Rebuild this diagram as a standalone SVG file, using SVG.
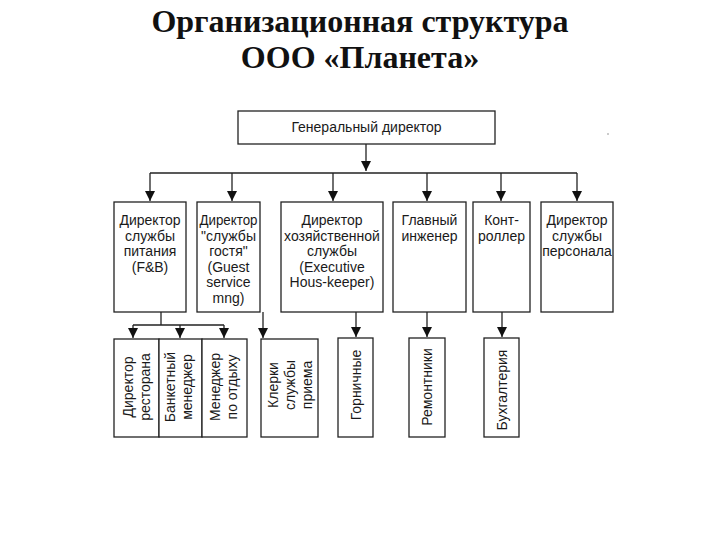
<svg xmlns="http://www.w3.org/2000/svg" width="720" height="540" viewBox="0 0 720 540">
<defs>
<style>
.title{font-family:"Liberation Serif","Times New Roman",serif;font-weight:bold;font-size:32px;fill:#111;text-anchor:middle}
.box{fill:#fff;stroke:#222;stroke-width:1.3}
.t{font-family:"Liberation Sans",Arial,sans-serif;font-size:14px;fill:#1a1a1a;text-anchor:middle}
.c{fill:none;stroke:#222;stroke-width:1.3}
</style>
<marker id="ah" viewBox="0 0 10 10" refX="10" refY="5" markerWidth="10" markerHeight="10" markerUnits="userSpaceOnUse" orient="auto">
<path d="M0,0 L10,5 L0,10 z" fill="#111"/>
</marker>
</defs>
<rect width="720" height="540" fill="#fff"/>
<text class="title" x="360" y="32">Организационная структура</text>
<text class="title" x="360" y="68">ООО «Планета»</text>
<circle cx="608" cy="134" r="0.8" fill="#888"/>

<g id="connectors">
<path class="c" d="M366,144 V171" marker-end="url(#ah)"/>
<path class="c" d="M150,173 H577"/>
<path class="c" d="M150,173 V201" marker-end="url(#ah)"/>
<path class="c" d="M232,173 V201" marker-end="url(#ah)"/>
<path class="c" d="M333,173 V201" marker-end="url(#ah)"/>
<path class="c" d="M427,173 V201" marker-end="url(#ah)"/>
<path class="c" d="M501,173 V201" marker-end="url(#ah)"/>
<path class="c" d="M577,173 V201" marker-end="url(#ah)"/>
<path class="c" d="M161,312 V325"/>
<path class="c" d="M133,325 H224"/>
<path class="c" d="M133,325 V338" marker-end="url(#ah)"/>
<path class="c" d="M180,325 V338" marker-end="url(#ah)"/>
<path class="c" d="M224,325 V338" marker-end="url(#ah)"/>
<path class="c" d="M263,312 V338" marker-end="url(#ah)"/>
<path class="c" d="M356,312 V337" marker-end="url(#ah)"/>
<path class="c" d="M427,312 V337" marker-end="url(#ah)"/>
<path class="c" d="M502,312 V337" marker-end="url(#ah)"/>
</g>

<g id="gen-dir">
<rect class="box" x="238" y="111" width="257" height="33"/>
<text class="t" x="366.5" y="132">Генеральный директор</text>
</g>

<g id="dir-fb">
<rect class="box" x="114" y="202" width="72" height="110"/>
<text class="t" x="150" y="225">Директор</text>
<text class="t" x="150" y="240.5">службы</text>
<text class="t" x="150" y="256">питания</text>
<text class="t" x="150" y="271.5">(F&amp;B)</text>
</g>

<g id="dir-guest">
<rect class="box" x="197" y="202" width="63" height="110"/>
<text class="t" x="228.5" y="225" textLength="58" lengthAdjust="spacingAndGlyphs">Директор</text>
<text class="t" x="228.5" y="240.5">"службы</text>
<text class="t" x="228.5" y="256">гостя"</text>
<text class="t" x="228.5" y="271.5">(Guest</text>
<text class="t" x="228.5" y="287">service</text>
<text class="t" x="228.5" y="302.5">mng)</text>
</g>

<g id="dir-house">
<rect class="box" x="281" y="202" width="102" height="110"/>
<text class="t" x="332" y="225">Директор</text>
<text class="t" x="332" y="240.5">хозяйственной</text>
<text class="t" x="332" y="256">службы</text>
<text class="t" x="332" y="271.5">(Executive</text>
<text class="t" x="332" y="287">Hous-keeper)</text>
</g>

<g id="chief-eng">
<rect class="box" x="393" y="202" width="73" height="110"/>
<text class="t" x="429.5" y="225">Главный</text>
<text class="t" x="429.5" y="240.5">инженер</text>
</g>

<g id="controller">
<rect class="box" x="473" y="202" width="57" height="110"/>
<text class="t" x="501.5" y="225">Конт-</text>
<text class="t" x="501.5" y="240.5">роллер</text>
</g>

<g id="dir-hr">
<rect class="box" x="541" y="202" width="72" height="110"/>
<text class="t" x="577" y="225">Директор</text>
<text class="t" x="577" y="240.5">службы</text>
<text class="t" x="577" y="256">персонала</text>
</g>

<g id="rest-dir">
<rect class="box" x="114" y="339" width="45" height="98"/>
<text class="t" transform="translate(133,387) rotate(-90)">Директор</text>
<text class="t" transform="translate(150,387) rotate(-90)">ресторана</text>
</g>

<g id="banquet">
<rect class="box" x="159" y="339" width="43" height="98"/>
<text class="t" transform="translate(175,387) rotate(-90)">Банкетный</text>
<text class="t" transform="translate(192,387) rotate(-90)">менеджер</text>
</g>

<g id="leisure">
<rect class="box" x="202" y="339" width="45" height="98"/>
<text class="t" transform="translate(220,387) rotate(-90)">Менеджер</text>
<text class="t" transform="translate(237,387) rotate(-90)">по отдыху</text>
</g>

<g id="clerks">
<rect class="box" x="261" y="339" width="57" height="98"/>
<text class="t" transform="translate(278,385) rotate(-90)">Клерки</text>
<text class="t" transform="translate(295,385) rotate(-90)">службы</text>
<text class="t" transform="translate(312,385) rotate(-90)">приема</text>
</g>

<g id="maids">
<rect class="box" x="338" y="338" width="35" height="99"/>
<text class="t" transform="translate(360.5,385) rotate(-90)">Горничные</text>
</g>

<g id="repair">
<rect class="box" x="409" y="338" width="36" height="99"/>
<text class="t" transform="translate(432,387) rotate(-90)">Ремонтники</text>
</g>

<g id="accounting">
<rect class="box" x="484" y="338" width="35" height="99"/>
<text class="t" transform="translate(506.5,390) rotate(-90)">Бухгалтерия</text>
</g>
</svg>
